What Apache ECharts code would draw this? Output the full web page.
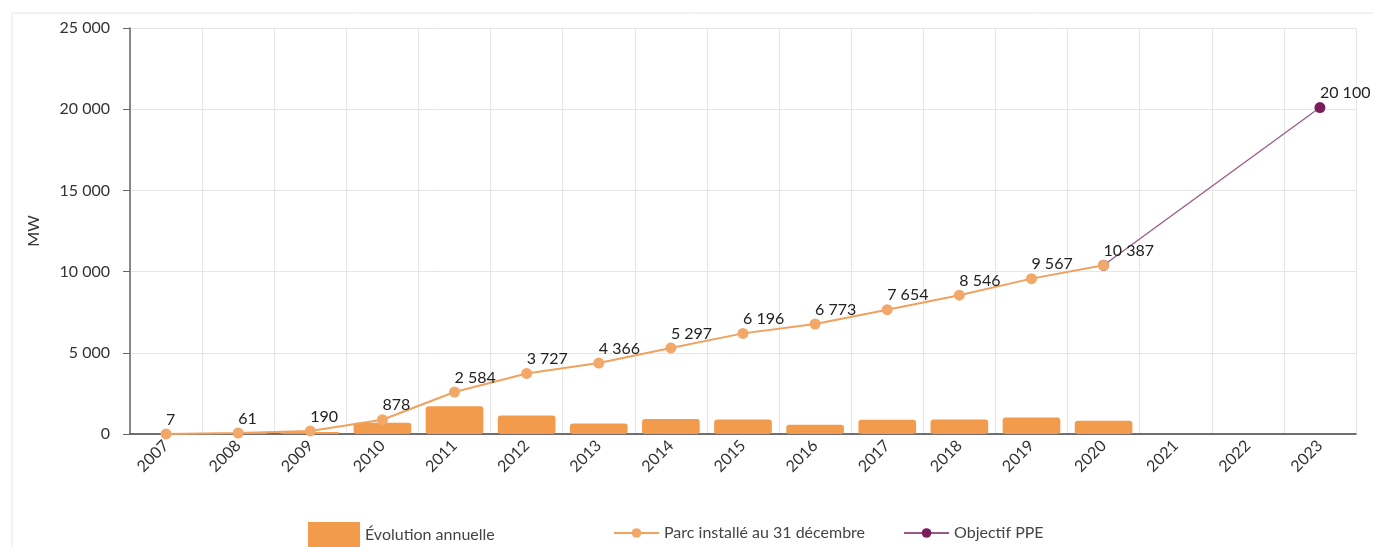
<!DOCTYPE html>
<html>
<head>
<meta charset="utf-8">
<script src="https://cdn.jsdelivr.net/npm/echarts@6/dist/echarts.min.js"></script>
<style>
html,body{margin:0;padding:0;background:#fff;}
#c{width:1373px;height:547px;}
</style>
</head>
<body>
<div id="c"></div>
<script>
const years = ['2007','2008','2009','2010','2011','2012','2013','2014','2015','2016','2017','2018','2019','2020','2021','2022','2023'];
const annualEvolution = [7, 54, 129, 688, 1706, 1143, 639, 931, 899, 577, 881, 892, 1021, 820, null, null, null];
const installedPark = [7, 61, 190, 878, 2584, 3727, 4366, 5297, 6196, 6773, 7654, 8546, 9567, 10387, null, null, null];
const ppeObjective = [null, null, null, null, null, null, null, null, null, null, null, null, null, 10387, null, null, 20100];
const yTicks = [0, 5000, 10000, 15000, 20000, 25000];

function fmt(v){ return String(v).replace(/\B(?=(\d{3})+(?!\d))/g, ' '); }

const chart = echarts.init(document.getElementById('c'));
const font = 'Lato, "Noto Sans", sans-serif';
chart.setOption({
  animation: false,
  textStyle: { fontFamily: font },
  graphic: [
    { type: 'line', shape: { x1: 12, y1: 13, x2: 1373, y2: 13 }, style: { stroke: '#e6e6e6', lineWidth: 1 } },
    { type: 'line', shape: { x1: 12, y1: 13, x2: 12, y2: 547 }, style: { stroke: '#e6e6e6', lineWidth: 1 } }
  ],
  grid: { left: 130, right: 17, top: 28, bottom: 113 },
  legend: [
    {
      data: [{ name: 'Évolution annuelle', icon: 'rect' }],
      left: 303, top: 517,
      itemWidth: 52, itemHeight: 25,
      textStyle: { fontSize: 16, color: '#444', fontFamily: font }
    },
    {
      data: ['Parc installé au 31 décembre', 'Objectif PPE'],
      left: 608, top: 520,
      itemWidth: 45, itemHeight: 12, itemGap: 38,
      textStyle: { fontSize: 16, color: '#444', fontFamily: font }
    }
  ],
  xAxis: {
    type: 'category',
    data: years,
    boundaryGap: true,
    axisLine: { lineStyle: { color: '#444', width: 1.5 } },
    axisTick: { alignWithLabel: true, length: 6, lineStyle: { color: '#444' } },
    axisLabel: { rotate: 45, fontSize: 16, color: '#333', margin: 9 },
    splitLine: { show: true, lineStyle: { color: '#e6e6e6' } }
  },
  yAxis: {
    type: 'value',
    min: yTicks[0], max: yTicks[yTicks.length - 1], interval: 5000,
    name: 'MW', nameLocation: 'middle', nameGap: 88,
    nameTextStyle: { fontSize: 16, color: '#333' },
    axisLine: { show: true, lineStyle: { color: '#666', width: 1.5 } },
    axisTick: { show: true, length: 7, lineStyle: { color: '#666' } },
    axisLabel: { fontSize: 16, color: '#333', margin: 20, formatter: fmt },
    splitLine: { show: true, lineStyle: { color: '#e6e6e6' } }
  },
  series: [
    {
      name: 'Évolution annuelle',
      type: 'bar',
      data: annualEvolution,
      barCategoryGap: '20%',
      itemStyle: { color: '#F39B4C', borderRadius: 3 },
      z: 1
    },
    {
      name: 'Objectif PPE',
      type: 'line',
      data: ppeObjective,
      connectNulls: true,
      symbol: 'circle', symbolSize: 11,
      itemStyle: { color: '#7B1D5C' },
      lineStyle: { color: '#9A5A88', width: 1.3 },
      label: {
        show: true, position: 'top', align: 'left', distance: 1,
        fontSize: 16, color: '#222',
        formatter: p => p.dataIndex === 16 ? fmt(p.value) : ''
      },
      z: 2
    },
    {
      name: 'Parc installé au 31 décembre',
      type: 'line',
      data: installedPark,
      symbol: 'circle', symbolSize: 11,
      itemStyle: { color: '#F2A868' },
      lineStyle: { color: '#EFA25E', width: 2 },
      label: {
        show: true, position: 'top', align: 'left', distance: 1,
        fontSize: 16, color: '#222',
        formatter: p => fmt(p.value)
      },
      z: 3
    }
  ]
});
</script>
</body>
</html>
